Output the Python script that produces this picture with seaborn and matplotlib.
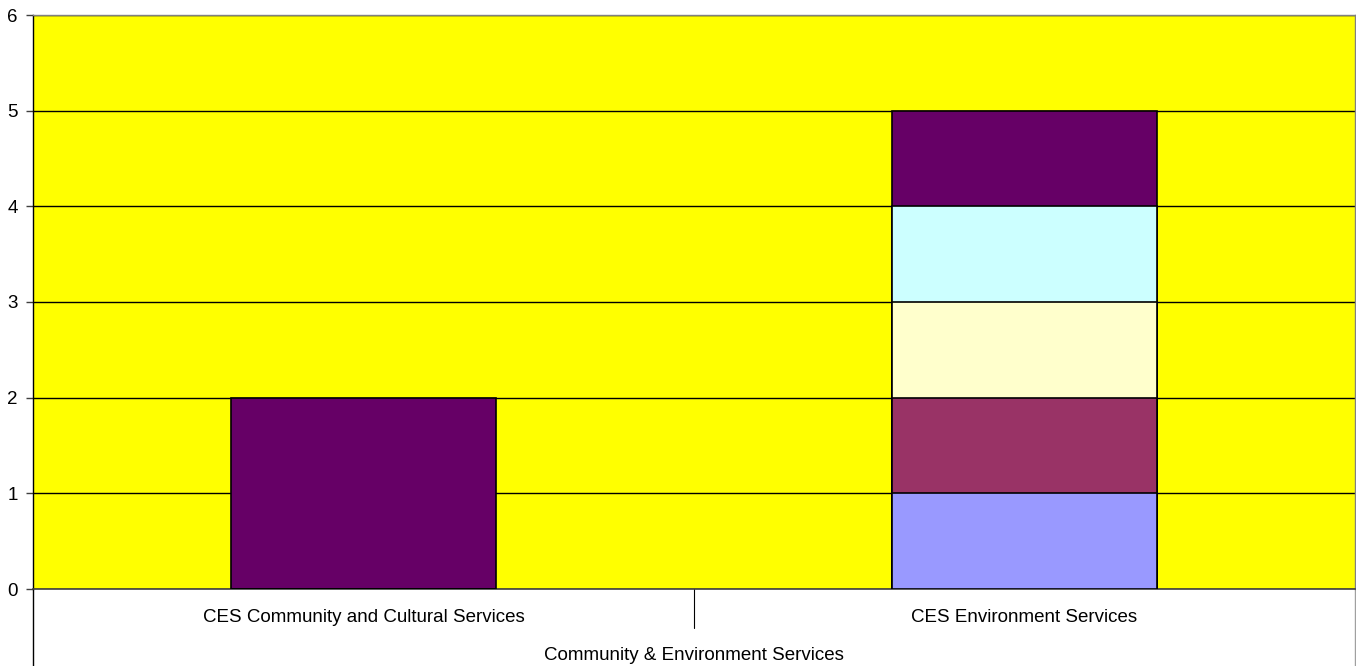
import numpy as np
import pandas as pd
import matplotlib
matplotlib.use("Agg")
import matplotlib.pyplot as plt
import matplotlib.transforms as mtransforms
import seaborn as sns

# Categories and stacked series values
categories = ["CES Community and Cultural Services", "CES Environment Services"]
group_label = "Community & Environment Services"
series_names = ["Series 1", "Series 2", "Series 3", "Series 4", "Series 5"]
series_1 = [0, 1]
series_2 = [0, 1]
series_3 = [0, 1]
series_4 = [0, 1]
series_5 = [2, 1]
series_colors = ["#9999FF", "#993366", "#FFFFCC", "#CCFFFF", "#660066"]
y_ticks = [0, 1, 2, 3, 4, 5, 6]

sns.set_theme(style="white")
plt.rcParams["font.family"] = ["Liberation Sans", "DejaVu Sans"]

FS = 13.5

values = np.array([series_1, series_2, series_3, series_4, series_5], dtype=float)
cumulative = values.cumsum(axis=0)

fig = plt.figure(figsize=(13.56, 6.66), dpi=100)
ax = fig.add_axes([33 / 1356, 1 - 589 / 666, 1322 / 1356, 574 / 666])
ax.set_facecolor("#FFFF00")

# Stacked bars: draw cumulative totals from the top layer downwards
for i in range(len(series_names) - 1, -1, -1):
    df = pd.DataFrame({"category": categories, "total": cumulative[i]})
    sns.barplot(data=df, x="category", y="total", color=series_colors[i],
                saturation=1, width=0.4, edgecolor="black", linewidth=1.2,
                ax=ax, zorder=3)

ax.set_ylim(0, 6)
ax.set_xlim(-0.5, 1.5)
ax.set_yticks(y_ticks)
ax.set_yticklabels([str(t) for t in y_ticks], fontsize=FS, color="black")
ax.yaxis.grid(True, color="black", linewidth=1, zorder=1)
ax.set_axisbelow(True)
ax.tick_params(axis="y", direction="out", length=5, width=1, color="#404040",
               pad=6, left=True)
ax.tick_params(axis="x", length=0, pad=14.5)
ax.set_xticks([0, 1])
ax.set_xticklabels(categories, fontsize=FS, color="black")
ax.set_xlabel("")
ax.set_ylabel("")

for side in ["top", "right"]:
    ax.spines[side].set_color("#808080")
    ax.spines[side].set_linewidth(1)
ax.spines["left"].set_color("black")
ax.spines["left"].set_linewidth(1)
ax.spines["bottom"].set_color("#404040")
ax.spines["bottom"].set_linewidth(1.2)

# Multi-level category axis: dividers and group label
trans = mtransforms.blended_transform_factory(ax.transData, ax.transAxes)
ax.plot([-0.5, -0.5], [0, -0.135], transform=trans, color="black",
        linewidth=1, clip_on=False)
ax.plot([0.5, 0.5], [0, -0.068], transform=trans, color="black",
        linewidth=0.8, clip_on=False)
ax.plot([1.5, 1.5], [0, -0.135], transform=trans, color="#A0A0A0",
        linewidth=1, clip_on=False)
ax.text(0.5, -(655 - 589) / 574, group_label, transform=trans, ha="center",
        va="center", fontsize=FS, color="black")

fig.savefig("out.png", dpi=100, facecolor="white")
